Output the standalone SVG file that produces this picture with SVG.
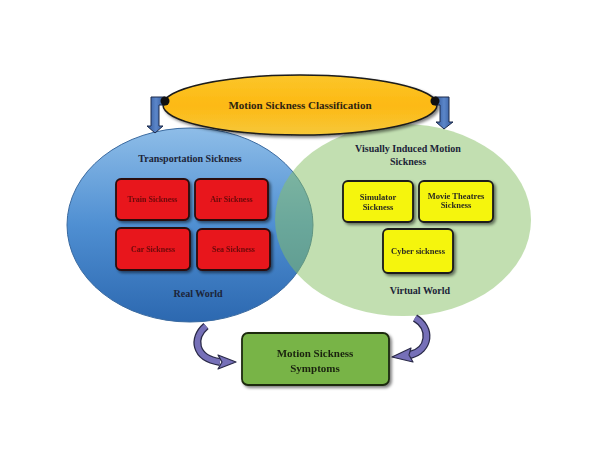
<svg xmlns="http://www.w3.org/2000/svg" width="600" height="460" viewBox="0 0 600 460">
<defs>
<linearGradient id="blueG" x1="0" y1="0" x2="0" y2="1">
<stop offset="0" stop-color="#8ebde8"/>
<stop offset="0.5" stop-color="#4f8fd2"/>
<stop offset="1" stop-color="#2c68b0"/>
</linearGradient>
<linearGradient id="yelG" x1="0" y1="0" x2="0" y2="1">
<stop offset="0" stop-color="#fbc62a"/>
<stop offset="0.5" stop-color="#fdb913"/>
<stop offset="1" stop-color="#f6c83a"/>
</linearGradient>
<linearGradient id="arrB" x1="0" y1="0" x2="1" y2="0">
<stop offset="0" stop-color="#2f5597"/>
<stop offset="0.5" stop-color="#5b86c9"/>
<stop offset="1" stop-color="#2f5597"/>
</linearGradient>
<filter id="sh" x="-20%" y="-20%" width="150%" height="160%">
<feGaussianBlur in="SourceAlpha" stdDeviation="1.5"/>
<feOffset dx="1.5" dy="2" result="o"/>
<feComponentTransfer><feFuncA type="linear" slope="0.5"/></feComponentTransfer>
<feMerge><feMergeNode/><feMergeNode in="SourceGraphic"/></feMerge>
</filter>
</defs>
<style>
text{font-family:"Liberation Serif","Times New Roman",serif;font-weight:bold;text-anchor:middle}
.title{font-size:10px;fill:#1c2438}
.red rect{fill:#e8141c;stroke:#2a0a0a;stroke-width:1.8}
.red text{font-size:8px;fill:#6a0a0a}
.yel rect{fill:#f5f50f;stroke:#1a1a1a;stroke-width:1.8}
.yel text{font-size:8.5px;fill:#2a2a20}
.elb{fill:url(#arrB);stroke:#1c2a4a;stroke-width:1}
.cv1{fill:none;stroke:#2a2a48;stroke-width:8;stroke-linecap:butt}
.cv2{fill:none;stroke:#7670b8;stroke-width:5.5;stroke-linecap:butt}
.head{fill:#7670b8;stroke:#2a2a48;stroke-width:1.2;stroke-linejoin:round}
</style>
<rect width="600" height="460" fill="#ffffff"/>

<g id="real-world">
<ellipse cx="190" cy="225" rx="123" ry="97" fill="url(#blueG)" stroke="#3a6aa0" stroke-width="1"/>
</g>
<g id="virtual-world">
<ellipse cx="403" cy="220" rx="128" ry="96" fill="#86c064" fill-opacity="0.5"/>
</g>

<g id="classification">
<ellipse cx="300" cy="105" rx="137" ry="30" fill="url(#yelG)" stroke="#1a1a1a" stroke-width="1.5" filter="url(#sh)"/>
<text x="300" y="109" style="font-size:11px;fill:#2e2410">Motion  Sickness  Classification</text>
</g>

<g id="connectors">
<path class="elb" d="M165,97 L151,97 L151,126 L147,126 L155,133 L163,126 L159,126 L159,105 L165,105 Z"/>
<circle cx="165" cy="101" r="4.5" fill="#111"/>
<path class="elb" d="M435,97 L449,97 L449,122 L453,122 L444,129 L436,122 L440,122 L440,105 L435,105 Z"/>
<circle cx="435" cy="101" r="4.5" fill="#111"/>
<path class="cv1" d="M206,326 C192,338 194,358 220,362"/>
<path class="cv2" d="M206,326 C192,338 194,358 220,362"/>
<polygon class="head" points="218,355 236,362 218,369 222,362"/>
<path class="cv1" d="M415,318 C432,328 430,350 410,355"/>
<path class="cv2" d="M415,318 C432,328 430,350 410,355"/>
<polygon class="head" points="411,348 392,357 413,362 409,355"/>
</g>

<g id="transportation-label">
<text class="title" x="190" y="162">Transportation Sickness</text>
<text class="title" x="198" y="297">Real World</text>
</g>

<g id="train" class="red" filter="url(#sh)">
<rect x="116" y="179" width="73" height="41" rx="5"/>
<text x="152.5" y="202">Train  Sickness</text>
</g>
<g id="air" class="red" filter="url(#sh)">
<rect x="195" y="179" width="73" height="41" rx="5"/>
<text x="231.5" y="202">Air  Sickness</text>
</g>
<g id="car" class="red" filter="url(#sh)">
<rect x="116" y="228" width="74" height="42" rx="5"/>
<text x="153" y="252">Car Sickness</text>
</g>
<g id="sea" class="red" filter="url(#sh)">
<rect x="197" y="229" width="73" height="41" rx="5"/>
<text x="233.5" y="252">Sea Sickness</text>
</g>

<g id="visual-label">
<text class="title" x="408" y="152">Visually Induced Motion</text>
<text class="title" x="408" y="165">Sickness</text>
<text class="title" x="420" y="294">Virtual World</text>
</g>

<g id="simulator" class="yel" filter="url(#sh)">
<rect x="343" y="181" width="70" height="41" rx="5"/>
<text x="378" y="200">Simulator</text>
<text x="378" y="210">Sickness</text>
</g>
<g id="movie" class="yel" filter="url(#sh)">
<rect x="419" y="181" width="74" height="41" rx="5"/>
<text x="456" y="199">Movie Theatres</text>
<text x="456" y="208">Sickness</text>
</g>
<g id="cyber" class="yel" filter="url(#sh)">
<rect x="383" y="229" width="70" height="44" rx="5"/>
<text x="418" y="254">Cyber sickness</text>
</g>

<g id="symptoms" filter="url(#sh)">
<rect x="242" y="333" width="147" height="52" rx="6" fill="#78b446" stroke="#1c2a10" stroke-width="1.8"/>
<text x="315" y="357" style="font-size:11px;fill:#1a2410">Motion  Sickness</text>
<text x="315" y="372" style="font-size:11px;fill:#1a2410">Symptoms</text>
</g>
</svg>
